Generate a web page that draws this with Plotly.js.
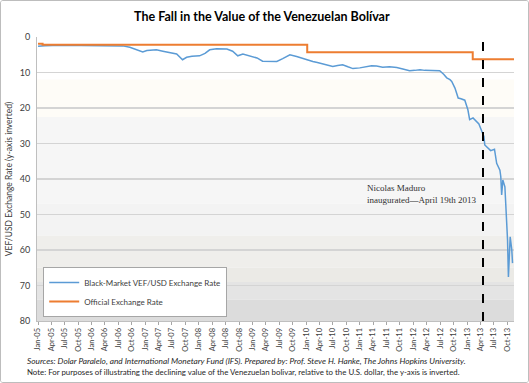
<!DOCTYPE html>
<html><head><meta charset="utf-8">
<script src="https://cdn.plot.ly/plotly-3.0.1.min.js"></script>
<style>
html,body{margin:0;padding:0;background:#fff;}
#chart{width:529px;height:383px;box-sizing:border-box;border:1px solid #bdbdbd;border-radius:3px;overflow:hidden;}
</style></head>
<body><div id="chart"></div>
<script>
// Black-market VEF/USD rate
const bmDates = ["2005-01-01","2005-02-18","2005-06-01","2005-09-10","2005-12-20","2006-04-01","2006-06-06","2006-08-01","2006-09-18","2006-11-04","2006-12-15","2007-01-12","2007-02-15","2007-03-18","2007-05-01","2007-06-15","2007-08-03","2007-09-12","2007-10-10","2007-11-15","2008-01-06","2008-02-12","2008-03-15","2008-05-01","2008-06-06","2008-07-10","2008-08-18","2008-09-22","2008-10-27","2008-11-24","2008-12-28","2009-01-31","2009-03-10","2009-04-28","2009-06-15","2009-07-25","2009-09-12","2009-10-28","2009-12-09","2010-01-12","2010-02-15","2010-03-18","2010-04-24","2010-05-27","2010-07-01","2010-08-03","2010-09-06","2010-10-12","2010-11-15","2011-01-01","2011-02-12","2011-03-22","2011-04-25","2011-06-06","2011-07-22","2011-09-10","2011-10-21","2011-12-06","2012-01-10","2012-02-15","2012-03-18","2012-04-21","2012-05-25","2012-06-28","2012-07-25","2012-08-15","2012-09-06","2012-09-18","2012-10-10","2012-11-01","2012-11-20","2012-12-16","2013-01-06","2013-01-18","2013-02-10","2013-03-01","2013-03-22","2013-04-10","2013-04-25","2013-05-01","2013-05-22","2013-06-10","2013-07-06","2013-07-21","2013-08-12","2013-08-18","2013-08-24","2013-09-01","2013-09-15","2013-09-27","2013-10-03","2013-10-09","2013-10-15","2013-10-21","2013-11-01","2013-11-06"];
const bmValues = [2.6,2.45,2.35,2.4,2.35,2.4,2.35,2.5,2.9,3.5,4.2,3.8,3.7,3.6,4.0,4.3,4.8,6.4,5.7,5.4,5.3,4.6,3.6,3.3,3.3,3.4,4.0,5.3,4.8,5.1,5.5,5.9,6.8,6.8,6.9,6.1,5.0,5.5,6.1,6.4,6.9,7.2,7.6,8.0,8.3,8.0,7.8,8.4,8.9,8.7,8.4,8.1,8.2,8.5,8.4,8.6,9.0,9.5,9.4,9.2,9.4,9.5,9.4,9.5,10.5,11.5,12.0,12.5,14.4,17.2,17.4,17.8,20.5,23.3,22.8,23.5,24.5,26.5,28.0,30.4,31.4,32.0,31.6,35.6,37.5,39.3,44.5,40.3,42.2,50.1,57.2,67.6,61.9,56.3,60.0,63.7];
// Official exchange rate (step series)
const offDates = ["2005-01-01","2005-02-01","2005-02-01","2010-01-08","2010-01-08","2013-02-08","2013-02-08","2013-11-16"];
const offValues = [1.92,1.92,2.15,2.15,4.30,4.30,6.30,6.30];
const seriesNames = ["Black-Market VEF/USD Exchange Rate","Official Exchange Rate"];
const yTicks = [0,10,20,30,40,50,60,70,80];
const maduroDate = "2013-04-19";

const bands = [[0,12,"#ffffff"],[12,22.5,"#fefcf7"],[22.5,47,"#f6f6f6"],[47,56,"#f3f3f3"],[56,65,"#efeeeb"],[65,69,"#ebeae6"],[69,74,"#e4e4e4"],[74,80,"#dcdcdc"]];
const shapes = bands.map(b=>({type:"rect",xref:"paper",yref:"y",x0:0,x1:1,y0:b[0],y1:b[1],fillcolor:b[2],line:{width:0},layer:"below"}));
shapes.push({type:"line",xref:"x",yref:"paper",x0:maduroDate,x1:maduroDate,y0:0,y1:1,line:{color:"#000",width:2,dash:"dash"}});

const traces = [
 {x:bmDates,y:bmValues,name:seriesNames[0],type:"scatter",mode:"lines",line:{color:"#5b9bd5",width:1.5}},
 {x:offDates,y:offValues,name:seriesNames[1],type:"scatter",mode:"lines",line:{color:"#ed7d31",width:2}}
];
const font = "Lato, 'Open Sans', sans-serif";
const layout = {
 width:527,height:381,
 margin:{l:36,r:14,t:36,b:61},
 paper_bgcolor:"#fff",plot_bgcolor:"rgba(0,0,0,0)",
 font:{family:font,color:"#404040",size:9},
 title:{text:"<b>The Fall in the Value of the Venezuelan Bolívar</b>",font:{family:font,size:12.5,color:"#000"},x:0.495,xanchor:"center",y:0.958,yanchor:"middle"},
 xaxis:{type:"date",range:["2004-12-25","2013-11-16"],tick0:"2005-01-01",dtick:"M3",tickformat:"%b-%y",tickangle:-90,
   ticks:"outside",ticklen:3,tickcolor:"#a6a6a6",showgrid:false,showline:true,linecolor:"#bfbfbf",tickfont:{size:7.5,color:"#404040"},zeroline:false},
 yaxis:{range:[80,0],tickvals:yTicks,ticks:"",showgrid:true,gridcolor:"#d4d4d4",gridwidth:1.3,showline:true,linecolor:"#bfbfbf",zeroline:false,
   tickfont:{size:9,color:"#404040"},ticklabelstandoff:4,
   title:{text:"VEF/USD Exchange Rate (y-axis inverted)",font:{size:8.5,color:"#404040"},standoff:5}},
 showlegend:true,
 legend:{x:0.013,y:0.014,xanchor:"left",yanchor:"bottom",bgcolor:"#fff",bordercolor:"#a6a6a6",borderwidth:1,font:{size:8,color:"#404040"},tracegroupgap:0,itemwidth:30},
 shapes:shapes,
 annotations:[
  {xref:"x",yref:"y",x:"2013-03-16",y:44.2,xanchor:"right",yanchor:"middle",align:"left",showarrow:false,
   text:"Nicolas Maduro<br>inaugurated—April 19th 2013",font:{family:"'Liberation Serif', 'DejaVu Serif', serif",size:9,color:"#303030"}},
  {xref:"paper",yref:"paper",x:-0.025,y:-0.141,xanchor:"left",yanchor:"middle",showarrow:false,
   text:"<i>Sources: Dolar Paralelo, and International Monetary Fund (IFS). Prepared by: Prof. Steve H. Hanke, The Johns Hopkins University.</i>",font:{size:8.3,color:"#262626"}},
  {xref:"paper",yref:"paper",x:-0.025,y:-0.18,xanchor:"left",yanchor:"middle",showarrow:false,
   text:"Note: For purposes of illustrating the declining value of the Venezuelan bolivar, relative to the U.S. dollar, the y-axis is inverted.",font:{size:7.85,color:"#262626"}}
 ]
};
Plotly.newPlot("chart",traces,layout,{displayModeBar:false,staticPlot:true});
</script></body></html>
